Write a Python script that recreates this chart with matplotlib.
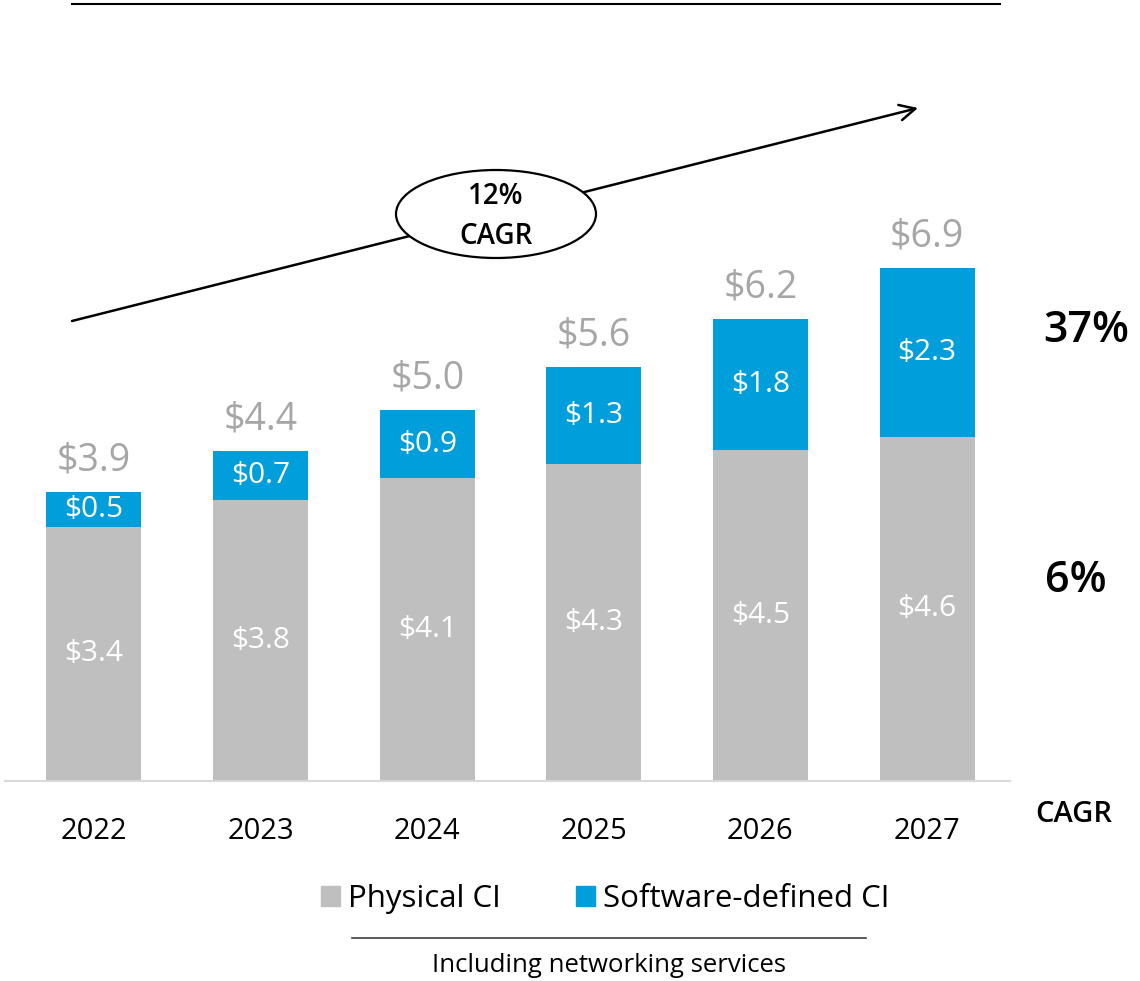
import numpy as np
import matplotlib.pyplot as plt
from matplotlib.patches import Ellipse, Patch

plt.rcParams['font.family'] = ['Open Sans', 'DejaVu Sans']

# data ($B), segment heights
years = ['2022', '2023', '2024', '2025', '2026', '2027']
physical = [3.42, 3.78, 4.08, 4.27, 4.46, 4.63]
software = [0.47, 0.66, 0.91, 1.30, 1.76, 2.27]
cagr_labels = ['37%', '6%']
cagr_total = '12%'

gray = '#BFBFBF'
blue = '#009FDB'
label_gray = '#A6A6A6'

W, H = 1140, 981
fig = plt.figure(figsize=(W / 100, H / 100), dpi=100)

def fx(px):
    return px / W

def fy(py):
    return 1 - py / H

# axes: bottom at baseline (y=781px), top at y=100px
ax = fig.add_axes([fx(5), fy(781), fx(1005), (781 - 100) / H])
x = np.arange(len(years))
totals = np.array(physical) + np.array(software)
ax.bar(x, physical, width=0.57, color=gray)
ax.bar(x, software, width=0.57, bottom=physical, color=blue)

ax.set_xlim(-0.534, 5.498)
ax.set_ylim(0, 681 / 74.3)

for i in range(len(years)):
    ax.text(x[i], physical[i] / 2, '$%.1f' % physical[i], ha='center', va='center',
            color='white', fontsize=21.5)
    ax.text(x[i], physical[i] + software[i] / 2, '$%.1f' % software[i], ha='center',
            va='center', color='white', fontsize=21.5)
    ax.annotate('$%.1f' % totals[i], (x[i], totals[i]),
                xytext=(0, 9), textcoords='offset points', ha='center', va='bottom',
                color=label_gray, fontsize=27)

for s in ['top', 'right', 'left']:
    ax.spines[s].set_visible(False)
ax.spines['bottom'].set_color('#D9D9D9')
ax.spines['bottom'].set_linewidth(1.5)
ax.set_yticks([])
ax.set_xticks(x)
ax.set_xticklabels(years, fontsize=21)
ax.tick_params(axis='x', length=0, pad=26)

# CAGR column on the right
fig.text(fx(1043), fy(330), cagr_labels[0], fontsize=31, fontweight='semibold', va='center')
fig.text(fx(1045), fy(580), cagr_labels[1], fontsize=31, fontweight='semibold', va='center')
fig.text(fx(1035), fy(815), 'CAGR', fontsize=21, fontweight='semibold', va='center')

# growth arrow with ellipse
fig.add_artist(plt.Line2D([fx(72), fx(1000)], [fy(4), fy(4)], color='black', lw=1.5))
ax.annotate('', xy=(fx(918), fy(108)), xytext=(fx(72), fy(321)),
            xycoords='figure fraction', textcoords='figure fraction',
            arrowprops=dict(arrowstyle='->', lw=1.8, color='black',
                            mutation_scale=28, shrinkA=0, shrinkB=0))
ell = Ellipse((fx(496), fy(214)), fx(200), 88 / H, transform=fig.transFigure,
              facecolor='white', edgecolor='black', lw=1.6, zorder=5)
fig.add_artist(ell)
fig.text(fx(496), fy(196), cagr_total, ha='center', va='center', fontsize=20,
         fontweight='semibold', zorder=6)
fig.text(fx(496), fy(237), 'CAGR', ha='center', va='center', fontsize=20,
         fontweight='semibold', zorder=6)

# legend
handles = [Patch(color=gray, label='Physical CI'), Patch(color=blue, label='Software-defined CI')]
fig.legend(handles=handles, loc='center', bbox_to_anchor=(fx(605), fy(899)), ncol=2,
           frameon=False, fontsize=22.5, handlelength=0.61, handleheight=0.61,
           handletextpad=0.25, columnspacing=2.4)

# footnote
fig.add_artist(plt.Line2D([fx(352), fx(866)], [fy(938), fy(938)], color='#404040', lw=1.2))
fig.text(fx(609), fy(965), 'Including networking services', ha='center', va='center',
         fontsize=18.5)

fig.savefig('out.png', dpi=100)
